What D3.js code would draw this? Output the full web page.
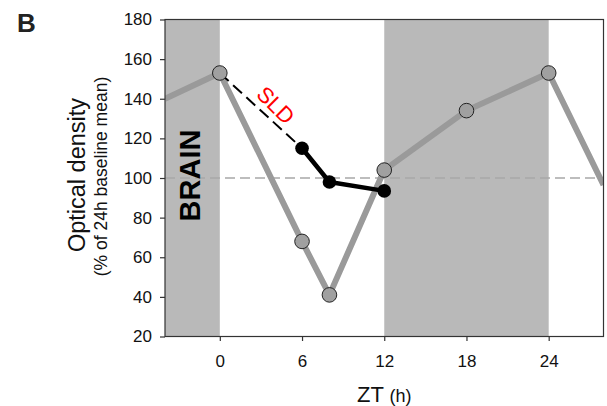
<!DOCTYPE html>
<html>
<head>
<meta charset="utf-8">
<script src="https://cdn.jsdelivr.net/npm/d3@7"></script>
<style>
  body { margin: 0; background: #fff; }
  text { font-family: "Liberation Sans", Arial, sans-serif; }
</style>
</head>
<body>
<div class="chart"></div>
<script>
// data
var darkPhases = [[-4, 0], [12, 24]];
var brainZT = [0, 6, 8, 12, 18, 24];
var brainValue = [153, 68, 41, 104, 134, 153];
// line continues past the plotted window (wrapped from the 24 h cycle)
var wrapZT = [-4, 28];
var wrapValue = [140, 96.5];
var sldZT = [6, 8, 12];
var sldValue = [115, 98, 93.5];
var xTicks = [0, 6, 12, 18, 24];
var yTicks = [20, 40, 60, 80, 100, 120, 140, 160, 180];
var baseline = 100;

var width = 607, height = 406;
var margin = {top: 19.5, right: 3.5, bottom: 69.5, left: 165};

var svg = d3.select(".chart")
    .append("svg")
    .attr("width", width)
    .attr("height", height);

var x = d3.scaleLinear().domain([-4, 28]).range([margin.left, width - margin.right]);
var y = d3.scaleLinear().domain([20, 180]).range([height - margin.bottom, margin.top]);

svg.append("clipPath").attr("id", "clip")
  .append("rect")
    .attr("x", x(-4)).attr("y", y(180))
    .attr("width", x(28) - x(-4)).attr("height", y(20) - y(180));

var plot = svg.append("g").attr("clip-path", "url(#clip)");

// dark phase shading
plot.selectAll("rect.dark")
  .data(darkPhases)
  .enter().append("rect")
    .attr("class", "dark")
    .attr("x", d => x(d[0]))
    .attr("y", y(180))
    .attr("width", d => x(d[1]) - x(d[0]))
    .attr("height", y(20) - y(180))
    .attr("fill", "#b9b9b9");

// baseline 100 %
plot.append("line")
    .attr("x1", x(-4)).attr("x2", x(28))
    .attr("y1", y(baseline)).attr("y2", y(baseline))
    .attr("stroke", "#a8a8a8")
    .attr("stroke-width", 1.3)
    .attr("stroke-dasharray", "10,5");

var line = d3.line().x(d => x(d[0])).y(d => y(d[1]));

var brainPts = brainZT.map((t, i) => [t, brainValue[i]]);
var grayPath = [[wrapZT[0], wrapValue[0]]].concat(brainPts, [[wrapZT[1], wrapValue[1]]]);

plot.append("path")
    .attr("d", line(grayPath))
    .attr("fill", "none")
    .attr("stroke", "#9a9a9a")
    .attr("stroke-width", 6)
    .attr("stroke-linejoin", "round");

// dashed link from ZT0 to first SLD point
plot.append("path")
    .attr("d", line([brainPts[0], [sldZT[0], sldValue[0]]]))
    .attr("fill", "none")
    .attr("stroke", "#000")
    .attr("stroke-width", 2)
    .attr("stroke-dasharray", "12,6");

var sldPts = sldZT.map((t, i) => [t, sldValue[i]]);
plot.append("path")
    .attr("d", line(sldPts))
    .attr("fill", "none")
    .attr("stroke", "#000")
    .attr("stroke-width", 4.5)
    .attr("stroke-linejoin", "round");

plot.selectAll("circle.brain")
  .data(brainPts)
  .enter().append("circle")
    .attr("class", "brain")
    .attr("cx", d => x(d[0]))
    .attr("cy", d => y(d[1]))
    .attr("r", 7.3)
    .attr("fill", "#a0a0a0")
    .attr("stroke", "#222")
    .attr("stroke-width", 1);

plot.selectAll("circle.sld")
  .data(sldPts)
  .enter().append("circle")
    .attr("class", "sld")
    .attr("cx", d => x(d[0]))
    .attr("cy", d => y(d[1]))
    .attr("r", 6.8)
    .attr("fill", "#000");

// frame
svg.append("rect")
    .attr("x", x(-4)).attr("y", y(180))
    .attr("width", x(28) - x(-4)).attr("height", y(20) - y(180))
    .attr("fill", "none")
    .attr("stroke", "#333")
    .attr("stroke-width", 1.2);

// axes
var yAxis = svg.append("g")
    .attr("transform", "translate(" + x(-4) + ",0)")
    .call(d3.axisLeft(y).tickValues(yTicks).tickSize(5).tickPadding(8));
var xAxis = svg.append("g")
    .attr("transform", "translate(0," + y(20) + ")")
    .call(d3.axisBottom(x).tickValues(xTicks).tickSize(4.5).tickPadding(14));

[yAxis, xAxis].forEach(function(g) {
  g.select(".domain").remove();
  g.selectAll("line").attr("stroke", "#333").attr("stroke-width", 1.2);
  g.selectAll("text")
    .attr("fill", "#111")
    .style("font-family", "'Liberation Sans', Arial, sans-serif")
    .style("font-size", "17px");
});

// labels
svg.append("text")
    .attr("x", 17).attr("y", 32)
    .attr("font-weight", "bold")
    .attr("font-size", 26)
    .attr("fill", "#222")
    .text("B");

svg.append("text")
    .attr("transform", "translate(85,175) rotate(-90)")
    .attr("text-anchor", "middle")
    .attr("font-size", 23.5)
    .attr("fill", "#111")
    .text("Optical density");

svg.append("text")
    .attr("transform", "translate(106.5,176.5) rotate(-90)")
    .attr("text-anchor", "middle")
    .attr("font-size", 17.5)
    .attr("fill", "#111")
    .text("(% of 24h baseline mean)");

svg.append("text")
    .attr("transform", "translate(200,175.5) rotate(-90)")
    .attr("text-anchor", "middle")
    .attr("font-weight", "bold")
    .attr("font-size", 29)
    .attr("fill", "#000")
    .text("BRAIN");

svg.append("text")
    .attr("transform", "translate(" + (x(3.9) - 3) + "," + (y(133) - 2) + ") rotate(45)")
    .attr("text-anchor", "middle")
    .attr("font-size", 22)
    .attr("fill", "#ff0000")
    .text("SLD");

var zt = svg.append("text")
    .attr("x", x(12))
    .attr("y", 402)
    .attr("text-anchor", "middle")
    .attr("fill", "#111");
zt.append("tspan").attr("font-size", 22).text("ZT ");
zt.append("tspan").attr("font-size", 18).text("(h)");
</script>
</body>
</html>
